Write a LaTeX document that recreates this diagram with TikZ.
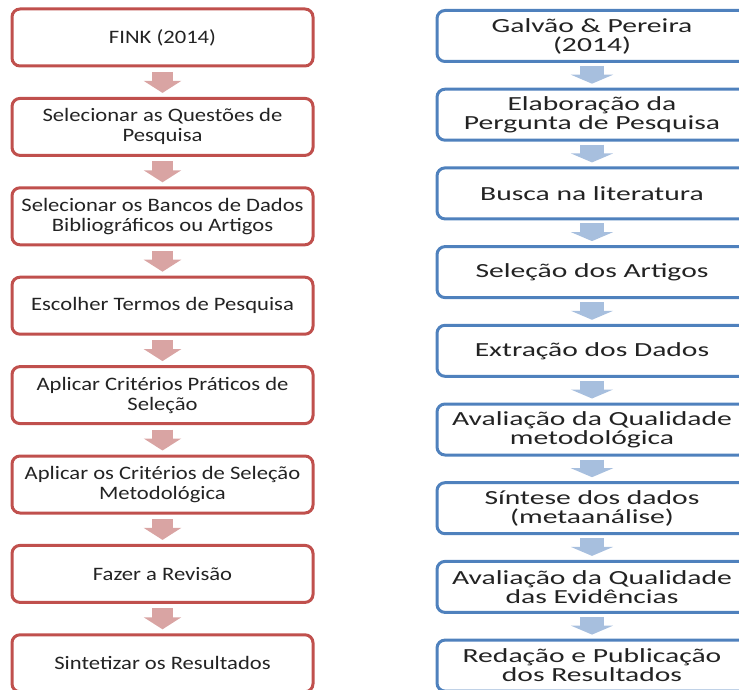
\documentclass[tikz,border=0pt]{standalone}
\usepackage{fontspec}
\setmainfont{Carlito}
\newfontfamily\finkfont[FakeStretch=1.19]{Carlito}
\newfontfamily\galvaofont[FakeStretch=1.48]{Carlito}
\usetikzlibrary{arrows.meta}
\definecolor{boxRed}{RGB}{192, 80, 77}
\definecolor{boxBlue}{RGB}{79, 129, 189}
\definecolor{arrowRed}{RGB}{217, 164, 163}
\definecolor{arrowBlue}{RGB}{167, 191, 222}
\definecolor{textGray}{RGB}{35, 35, 35}

\begin{document}
\begin{tikzpicture}[x=1pt, y=-1pt,
    finkbox/.style={draw=boxRed, line width=3pt, rounded corners=8pt, fill=white,
      minimum width=301pt, minimum height=57pt, align=center, text=textGray,
      font=\finkfont\fontsize{19}{20}\selectfont},
    galvaobox/.style={draw=boxBlue, line width=3pt, rounded corners=8pt, fill=white,
      minimum width=310pt, minimum height=51pt, align=center, text=textGray,
      font=\galvaofont\fontsize{20}{19}\selectfont},
    finkarrow/.style={arrowRed, line width=21pt, shorten <=4.5pt, shorten >=4pt,
      -{Triangle[length=12pt, width=37pt]}},
    galvaoarrow/.style={arrowBlue, line width=24pt, shorten <=3pt, shorten >=4pt,
      -{Triangle[length=9pt, width=42pt]}}]
  \useasboundingbox (0,0) rectangle (739,690);

  % FINK (2014)
  \node[finkbox] (f1) at (162.5, 37.5) {FINK (2014)};
  \node[finkbox] (f2) at (162.5, 126.9) {Selecionar as Questões de\\Pesquisa};
  \node[finkbox] (f3) at (162.5, 216.3) {Selecionar os Bancos de Dados\\Bibliográficos ou Artigos};
  \node[finkbox] (f4) at (162.5, 305.7) {Escolher Termos de Pesquisa};
  \node[finkbox] (f5) at (162.5, 395.1) {Aplicar Critérios Práticos de\\Seleção};
  \node[finkbox] (f6) at (162.5, 484.5) {Aplicar os Critérios de Seleção\\Metodológica};
  \node[finkbox] (f7) at (162.5, 573.9) {Fazer a Revisão};
  \node[finkbox] (f8) at (162.5, 663.3) {Sintetizar os Resultados};

  \draw[finkarrow] (f1.south) -- (f2.north);
  \draw[finkarrow] (f2.south) -- (f3.north);
  \draw[finkarrow] (f3.south) -- (f4.north);
  \draw[finkarrow] (f4.south) -- (f5.north);
  \draw[finkarrow] (f5.south) -- (f6.north);
  \draw[finkarrow] (f6.south) -- (f7.north);
  \draw[finkarrow] (f7.south) -- (f8.north);

  % Galvao & Pereira (2014)
  \node[galvaobox] (g1) at (592, 36) {Galvão \& Pereira\\(2014)};
  \node[galvaobox] (g2) at (592, 114.7) {Elaboração da\\Pergunta de Pesquisa};
  \node[galvaobox] (g3) at (592, 193.4) {Busca na literatura};
  \node[galvaobox] (g4) at (592, 272.1) {Seleção dos Artigos};
  \node[galvaobox] (g5) at (592, 350.8) {Extração dos Dados};
  \node[galvaobox] (g6) at (592, 429.5) {Avaliação da Qualidade\\metodológica};
  \node[galvaobox] (g7) at (592, 508.2) {Síntese dos dados\\(metaanálise)};
  \node[galvaobox] (g8) at (592, 586.9) {Avaliação da Qualidade\\das Evidências};
  \node[galvaobox] (g9) at (592, 665.6) {Redação e Publicação\\dos Resultados};

  \draw[galvaoarrow] (g1.south) -- (g2.north);
  \draw[galvaoarrow] (g2.south) -- (g3.north);
  \draw[galvaoarrow] (g3.south) -- (g4.north);
  \draw[galvaoarrow] (g4.south) -- (g5.north);
  \draw[galvaoarrow] (g5.south) -- (g6.north);
  \draw[galvaoarrow] (g6.south) -- (g7.north);
  \draw[galvaoarrow] (g7.south) -- (g8.north);
  \draw[galvaoarrow] (g8.south) -- (g9.north);
\end{tikzpicture}
\end{document}
